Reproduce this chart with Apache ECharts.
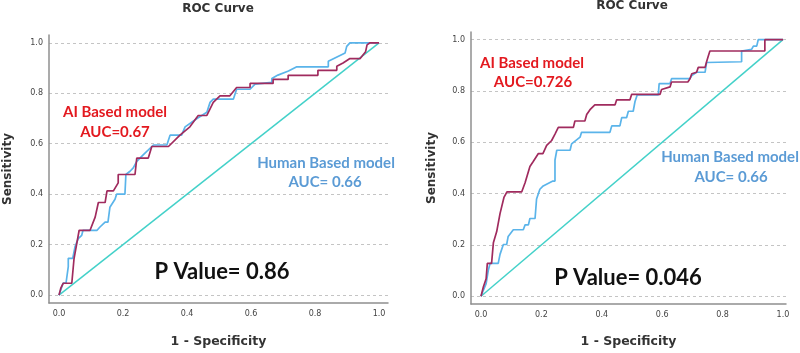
<!DOCTYPE html>
<html>
<head>
<meta charset="utf-8">
<script src="https://cdn.jsdelivr.net/npm/echarts@6/dist/echarts.min.js"></script>
<style>html,body{margin:0;padding:0;background:#fff}#c{width:800px;height:353px}</style>
</head>
<body>
<div id="c"></div>
<script>
// ---- data ----
var tickValues = [0, 0.2, 0.4, 0.6, 0.8, 1.0];
var diagonal = [[0, 0], [1, 1]];

var leftAi = [[0,0],[0.006,0.029],[0.013,0.047],[0.040,0.047],[0.047,0.145],[0.063,0.257],[0.097,0.257],[0.113,0.309],[0.123,0.367],[0.144,0.367],[0.150,0.413],[0.170,0.413],[0.185,0.445],[0.185,0.478],[0.2375,0.478],[0.243,0.543],[0.279,0.543],[0.290,0.589],[0.342,0.589],[0.378,0.634],[0.409,0.667],[0.435,0.712],[0.462,0.712],[0.482,0.764],[0.503,0.790],[0.534,0.790],[0.555,0.823],[0.597,0.823],[0.597,0.839],[0.669,0.839],[0.669,0.855],[0.716,0.855],[0.716,0.871],[0.809,0.871],[0.809,0.891],[0.868,0.891],[0.868,0.907],[0.8875,0.920],[0.909,0.9375],[0.941,0.9375],[0.958,0.965],[0.9625,0.992],[0.972,1.0],[1,1]];

var leftHuman = [[0,0],[0.006,0.022],[0.013,0.048],[0.022,0.048],[0.029,0.113],[0.029,0.146],[0.043,0.146],[0.05,0.191],[0.060,0.224],[0.071,0.237],[0.075,0.237],[0.075,0.257],[0.119,0.257],[0.128,0.270],[0.144,0.289],[0.153,0.289],[0.159,0.348],[0.175,0.380],[0.180,0.400],[0.206,0.400],[0.209,0.478],[0.222,0.491],[0.232,0.504],[0.243,0.530],[0.263,0.556],[0.295,0.595],[0.337,0.595],[0.347,0.634],[0.383,0.634],[0.394,0.667],[0.430,0.699],[0.462,0.725],[0.472,0.764],[0.482,0.777],[0.545,0.777],[0.555,0.816],[0.597,0.816],[0.6125,0.836],[0.665,0.843],[0.665,0.859],[0.684,0.872],[0.717,0.888],[0.743,0.905],[0.8415,0.905],[0.8415,0.927],[0.894,0.960],[0.899,0.986],[0.909,1.0],[1,1]];

var rightAi = [[0,0],[0.008,0.037],[0.017,0.068],[0.021,0.128],[0.035,0.128],[0.041,0.208],[0.052,0.252],[0.063,0.322],[0.076,0.385],[0.086,0.407],[0.135,0.407],[0.146,0.442],[0.162,0.506],[0.173,0.525],[0.190,0.556],[0.205,0.556],[0.2175,0.588],[0.234,0.607],[0.245,0.632],[0.256,0.658],[0.306,0.658],[0.311,0.683],[0.344,0.683],[0.350,0.708],[0.361,0.727],[0.377,0.746],[0.444,0.746],[0.449,0.765],[0.493,0.765],[0.499,0.787],[0.593,0.787],[0.598,0.806],[0.626,0.816],[0.631,0.835],[0.685,0.835],[0.692,0.848],[0.698,0.867],[0.714,0.873],[0.7195,0.892],[0.742,0.892],[0.747,0.914],[0.753,0.937],[0.758,0.956],[0.940,0.956],[0.940,1.0],[1,1]];

var rightHuman = [[0,0],[0.008,0.024],[0.017,0.049],[0.024,0.100],[0.030,0.128],[0.057,0.128],[0.063,0.163],[0.074,0.2015],[0.085,0.2015],[0.090,0.233],[0.107,0.259],[0.140,0.259],[0.146,0.278],[0.157,0.278],[0.162,0.303],[0.179,0.303],[0.184,0.379],[0.195,0.417],[0.206,0.430],[0.238,0.449],[0.245,0.449],[0.245,0.531],[0.251,0.569],[0.295,0.569],[0.300,0.594],[0.328,0.620],[0.333,0.639],[0.427,0.639],[0.433,0.664],[0.460,0.664],[0.466,0.696],[0.482,0.696],[0.488,0.721],[0.504,0.721],[0.510,0.759],[0.5175,0.785],[0.587,0.785],[0.590,0.829],[0.626,0.829],[0.631,0.848],[0.692,0.848],[0.698,0.860],[0.714,0.873],[0.742,0.873],[0.747,0.911],[0.863,0.914],[0.863,0.956],[0.896,0.962],[0.902,0.975],[0.913,0.975],[0.918,1.0],[1,1]];

var titles = ['ROC Curve', 'ROC Curve'];
var aiLabels = ['AUC=0.67', 'AUC=0.726'];
var humanLabels = ['AUC= 0.66', 'AUC= 0.66'];
var pValues = ['P Value= 0.86', 'P Value= 0.046'];

// ---- chart ----
var AI_COLOR = '#a02b5e', HUMAN_COLOR = '#5ab4ea', DIAG_COLOR = '#43d1c9';
var RED = '#e3191f', BLUE = '#5b9bd5';

function xAxisDef(gi, min, max, gap) {
  return {
    gridIndex: gi, type: 'value', min: min, max: max,
    name: '1 - Specificity', nameLocation: 'middle', nameGap: gap,
    nameTextStyle: {fontFamily: 'DejaVu Sans', fontWeight: 'bold', fontSize: 12.5, color: '#333'},
    axisLine: {show: true, onZero: false, lineStyle: {color: '#8f8f8f', width: 1.5}},
    axisTick: {show: false, customValues: tickValues},
    axisLabel: {customValues: tickValues, formatter: function (v) { return v.toFixed(1); },
      fontFamily: 'DejaVu Sans', fontSize: 8, color: '#444', margin: 7},
    splitLine: {show: false}
  };
}
function yAxisDef(gi, min, max, gap) {
  return {
    gridIndex: gi, type: 'value', min: min, max: max,
    name: 'Sensitivity', nameLocation: 'middle', nameGap: gap,
    nameTextStyle: {fontFamily: 'DejaVu Sans', fontWeight: 'bold', fontSize: 12, color: '#333'},
    axisLine: {show: true, onZero: false, lineStyle: {color: '#8f8f8f', width: 1.5}},
    axisTick: {show: false, customValues: tickValues},
    axisLabel: {customValues: tickValues, formatter: function (v) { return v.toFixed(1); },
      fontFamily: 'DejaVu Sans', fontSize: 8, color: '#444', margin: 6},
    splitLine: {show: true, lineStyle: {color: '#c4c4c4', type: [3, 3], width: 1}}
  };
}
function lineSeries(gi, data, color, width, z) {
  return {type: 'line', xAxisIndex: gi, yAxisIndex: gi, data: data, showSymbol: false,
    symbol: 'none', silent: true, z: z, lineStyle: {color: color, width: width}};
}
function txt(x, y, text, color, size) {
  return {type: 'text', x: x, y: y, silent: true,
    style: {text: text, fill: color, font: 'bold ' + size + 'px Lato',
      align: 'center', verticalAlign: 'middle', textAlign: 'center', textVerticalAlign: 'middle'}};
}

var chart = echarts.init(document.getElementById('c'), null, {renderer: 'canvas'});
chart.setOption({
  animation: false,
  backgroundColor: '#fff',
  title: [
    {text: titles[0], left: 218, top: 3, padding: 0, textAlign: 'center',
      textStyle: {fontFamily: 'DejaVu Sans', fontWeight: 'bold', fontSize: 12, color: '#333'}},
    {text: titles[1], left: 632, top: 0, padding: 0, textAlign: 'center',
      textStyle: {fontFamily: 'DejaVu Sans', fontWeight: 'bold', fontSize: 12, color: '#333'}}
  ],
  grid: [
    {left: 49, top: 35, width: 339, height: 272, containLabel: false},
    {left: 471, top: 32, width: 315, height: 279, containLabel: false}
  ],
  xAxis: [xAxisDef(0, -0.03125, 1.028, 32), xAxisDef(1, -0.0331, 1.01, 31)],
  yAxis: [yAxisDef(0, -0.03125, 1.031, 35), yAxisDef(1, -0.0304, 1.030, 33)],
  series: [
    lineSeries(0, diagonal, DIAG_COLOR, 1.5, 2),
    lineSeries(0, leftHuman, HUMAN_COLOR, 1.7, 3),
    lineSeries(0, leftAi, AI_COLOR, 1.7, 4),
    lineSeries(1, diagonal, DIAG_COLOR, 1.5, 2),
    lineSeries(1, rightHuman, HUMAN_COLOR, 1.7, 3),
    lineSeries(1, rightAi, AI_COLOR, 1.7, 4)
  ],
  graphic: [
    txt(115, 112, 'AI Based model', RED, 15),
    txt(115, 132, aiLabels[0], RED, 15),
    txt(326, 163, 'Human Based model', BLUE, 15),
    txt(325, 182, humanLabels[0], BLUE, 15),
    txt(222, 272, pValues[0], '#111', 22),
    txt(532, 63, 'AI Based model', RED, 15),
    txt(533, 82, aiLabels[1], RED, 15),
    txt(730, 157, 'Human Based model', BLUE, 15),
    txt(731, 177, humanLabels[1], BLUE, 15),
    txt(628, 278, pValues[1], '#111', 22)
  ]
});
</script>
</body>
</html>
